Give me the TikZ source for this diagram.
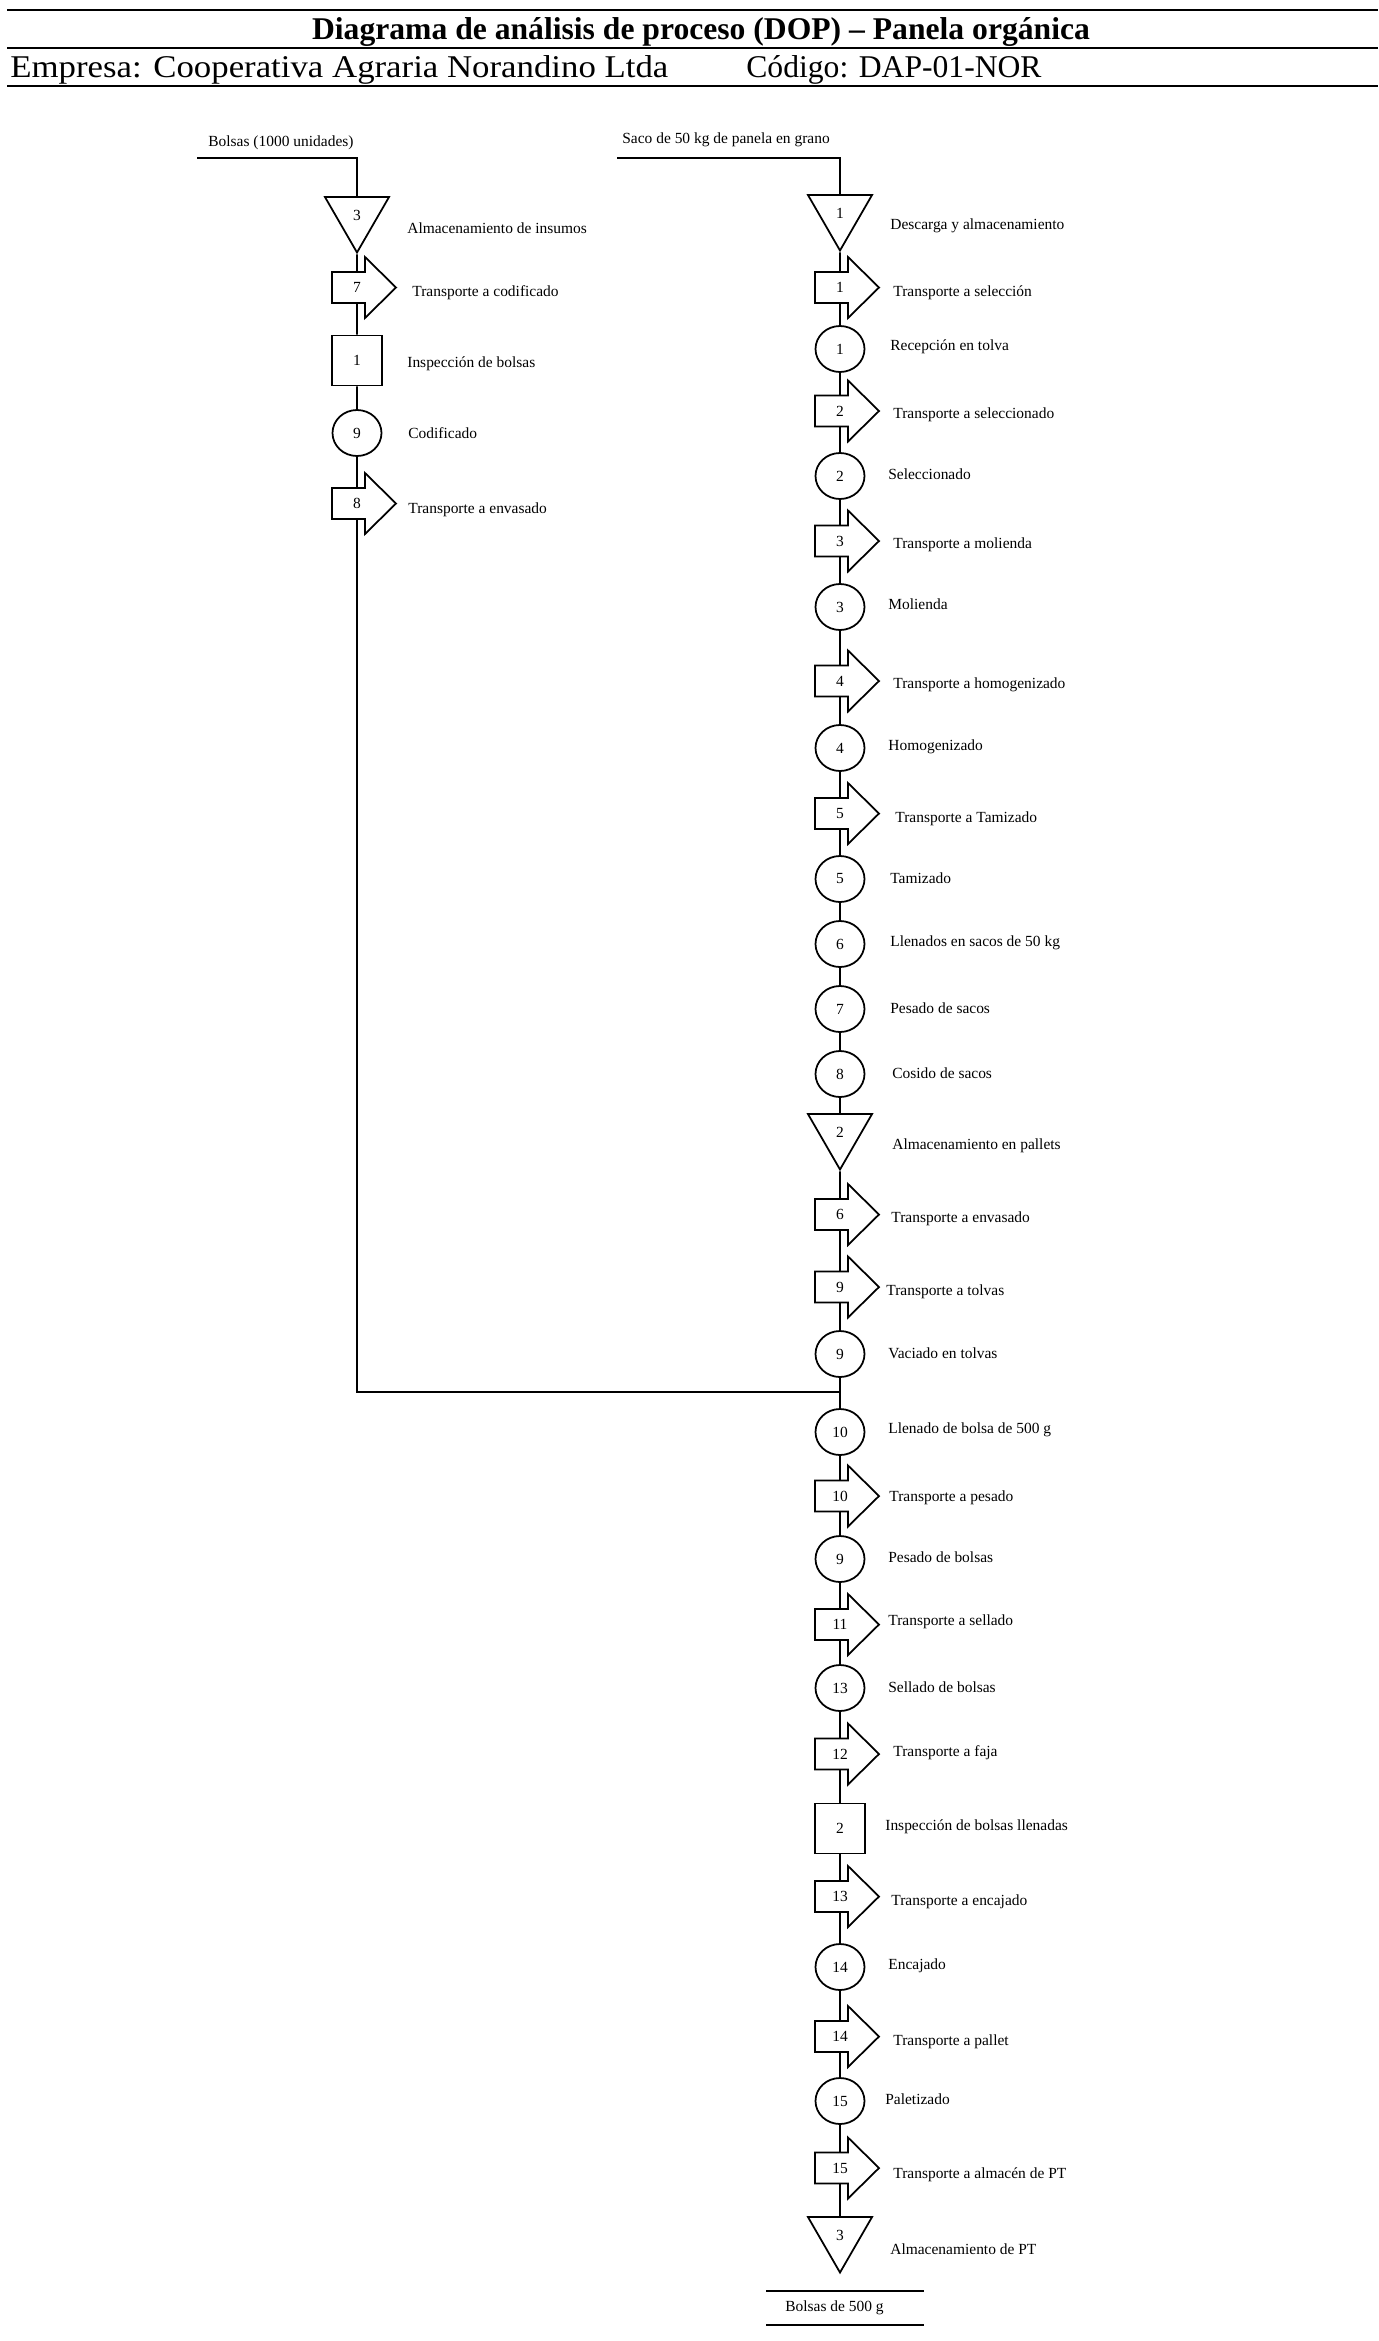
\documentclass[tikz,border=0pt]{standalone}
\usepackage{fontspec}
\setmainfont{Liberation Serif}
\usetikzlibrary{shapes.geometric}

% flecha de transporte: nombre, x, y, numero
\newcommand{\transporte}[4]{%
  \draw[simb] (#2,#3) ++(-25,-15.5) -- ++(33,0) -- ++(0,-15) -- ++(31,30.5)
    -- ++(-31,30.5) -- ++(0,-15) -- ++(-33,0) -- cycle;
  \node[tnum] (#1) at (#2,#3) {#4};}

\begin{document}
\begin{tikzpicture}[
		x=0.2mm,y=-0.2mm,line join=miter,
		simb/.style={draw,line width=1pt},
		con/.style={line width=1pt},
		regla/.style={line width=1.4pt},
		oper/.style={ellipse,draw,line width=1pt,minimum width=9.8mm,minimum height=9.2mm,inner sep=0pt,font=\fontsize{8.8}{10}\selectfont},
		insp/.style={rectangle,draw,line width=1pt,minimum size=10mm,inner sep=0pt,font=\fontsize{8.8}{10}\selectfont},
		alma/.style={regular polygon,regular polygon sides=3,shape border rotate=180,draw,line width=1pt,minimum size=14.8mm,inner sep=0pt,font=\fontsize{8.8}{10}\selectfont},
		tnum/.style={rectangle,inner sep=0pt,minimum width=2mm,minimum height=6.2mm,font=\fontsize{8.8}{10}\selectfont},
		etiq/.style={anchor=west,inner sep=0pt,font=\fontsize{8.8}{10}\selectfont},
		cab/.style={anchor=base west,inner sep=0pt,font=\fontsize{18}{21}\selectfont}]
	\useasboundingbox (0,0) rectangle (1378,2341);
	% encabezado
	\draw[regla] (7,10) -- (1378,10);
	\draw[regla] (7,48) -- (1378,48);
	\draw[regla] (7,86) -- (1378,86);
	\node[anchor=base,inner sep=0pt,font=\bfseries\fontsize{18}{21}\selectfont] (titulo) at (701,39) {Diagrama de análisis de proceso (DOP) – Panela orgánica};
	\node[cab] (empresa) at (10,77) {\scalebox{1.1}[1]{Empresa: Cooperativa Agraria Norandino Ltda}};
	\node[cab] (codigo) at (746,77) {Código: DAP-01-NOR};
	% columna de bolsas
	\node[etiq] (eBolsas) at (208,143) {Bolsas (1000 unidades)};
	\node[alma] (aL3) at (357,215.5) {3};
	\transporte{tL7}{357}{287.5}{7}
	\node[insp] (iL1) at (357,360.5) {1};
	\node[oper] (oL9) at (357,433) {9};
	\transporte{tL8}{357}{503.5}{8}
	\node[etiq] (eL3) at (407,228) {Almacenamiento de insumos};
	\node[etiq] (eL7) at (412,293) {Transporte a codificado};
	\node[etiq] (eL1) at (407,364) {Inspección de bolsas};
	\node[etiq] (eL9) at (408,433) {Codificado};
	\node[etiq] (eL8) at (408,510) {Transporte a envasado};
	% columna de panela
	\node[etiq] (eSaco) at (622,140) {Saco de 50 kg de panela en grano};
	\node[alma] (aR1) at (840,213.5) {1};
	\transporte{tR1}{840}{287.5}{1}
	\node[oper] (oR1) at (840,349) {1};
	\transporte{tR2}{840}{411}{2}
	\node[oper] (oR2) at (840,476) {2};
	\transporte{tR3}{840}{541}{3}
	\node[oper] (oR3) at (840,607) {3};
	\transporte{tR4}{840}{681}{4}
	\node[oper] (oR4) at (840,748) {4};
	\transporte{tR5}{840}{813.5}{5}
	\node[oper] (oR5) at (840,879) {5};
	\node[oper] (oR6) at (840,944) {6};
	\node[oper] (oR7) at (840,1009) {7};
	\node[oper] (oR8) at (840,1074) {8};
	\node[alma] (aR2) at (840,1132.5) {2};
	\transporte{tR6}{840}{1214.5}{6}
	\transporte{tR9}{840}{1287}{9}
	\node[oper] (oR9) at (840,1354) {9};
	\node[oper] (oR10) at (840,1432) {10};
	\transporte{tR10}{840}{1496}{10}
	\node[oper] (oR9b) at (840,1559) {9};
	\transporte{tR11}{840}{1624.5}{11}
	\node[oper] (oR13) at (840,1688) {13};
	\transporte{tR12}{840}{1754}{12}
	\node[insp] (iR2) at (840,1828.5) {2};
	\transporte{tR13}{840}{1896.5}{13}
	\node[oper] (oR14) at (840,1967) {14};
	\transporte{tR14}{840}{2036.5}{14}
	\node[oper] (oR15) at (840,2101) {15};
	\transporte{tR15}{840}{2168}{15}
	\node[alma] (aR3) at (840,2235.5) {3};
	\node[etiq] (eR1a) at (890,226) {Descarga y almacenamiento};
	\node[etiq] (eR1t) at (893,293) {Transporte a selección};
	\node[etiq] (eR1o) at (890,347) {Recepción en tolva};
	\node[etiq] (eR2t) at (893,415) {Transporte a seleccionado};
	\node[etiq] (eR2o) at (888,474) {Seleccionado};
	\node[etiq] (eR3t) at (893,545) {Transporte a molienda};
	\node[etiq] (eR3o) at (888,604) {Molienda};
	\node[etiq] (eR4t) at (893,685) {Transporte a homogenizado};
	\node[etiq] (eR4o) at (888,747) {Homogenizado};
	\node[etiq] (eR5t) at (895,819) {Transporte a Tamizado};
	\node[etiq] (eR5o) at (890,878) {Tamizado};
	\node[etiq] (eR6o) at (890,943) {Llenados en sacos de 50 kg};
	\node[etiq] (eR7o) at (890,1008) {Pesado de sacos};
	\node[etiq] (eR8o) at (892,1073) {Cosido de sacos};
	\node[etiq] (eR2a) at (892,1146) {Almacenamiento en pallets};
	\node[etiq] (eR6t) at (891,1219) {Transporte a envasado};
	\node[etiq] (eR9t) at (886,1292) {Transporte a tolvas};
	\node[etiq] (eR9o) at (888,1353) {Vaciado en tolvas};
	\node[etiq] (eR10o) at (888,1430) {Llenado de bolsa de 500 g};
	\node[etiq] (eR10t) at (889,1498) {Transporte a pesado};
	\node[etiq] (eR9bo) at (888,1557) {Pesado de bolsas};
	\node[etiq] (eR11t) at (888,1622) {Transporte a sellado};
	\node[etiq] (eR13o) at (888,1687) {Sellado de bolsas};
	\node[etiq] (eR12t) at (893,1753) {Transporte a faja};
	\node[etiq] (eR2i) at (885,1827) {Inspección de bolsas llenadas};
	\node[etiq] (eR13t) at (891,1902) {Transporte a encajado};
	\node[etiq] (eR14o) at (888,1966) {Encajado};
	\node[etiq] (eR14t) at (893,2042) {Transporte a pallet};
	\node[etiq] (eR15o) at (885,2099) {Paletizado};
	\node[etiq] (eR15t) at (893,2175) {Transporte a almacén de PT};
	\node[etiq] (eR3a) at (890,2249) {Almacenamiento de PT};
	\node[etiq] (eFin) at (785,2308) {Bolsas de 500 g};
	\draw[con] (766,2291) -- (924,2291);
	\draw[con] (766,2325) -- (924,2325);
	% conectores
	\coordinate (inL) at (197,158);
	\coordinate (inR) at (617,158);
	\coordinate (union) at (840,1392);
	\draw[con] (inL) -| (aL3);
	\draw[con] (aL3) -- (tL7) -- (iL1) -- (oL9) -- (tL8);
	\draw[con] (tL8) |- (union);
	\draw[con] (inR) -| (aR1);
	\draw[con] (aR1) -- (tR1) -- (oR1) -- (tR2) -- (oR2) -- (tR3) -- (oR3) -- (tR4) -- (oR4) -- (tR5) -- (oR5);
	\draw[con] (oR5) -- (oR6) -- (oR7) -- (oR8) -- (aR2) -- (tR6) -- (tR9) -- (oR9) -- (oR10);
	\draw[con] (oR10) -- (tR10) -- (oR9b) -- (tR11) -- (oR13) -- (tR12) -- (iR2) -- (tR13);
	\draw[con] (tR13) -- (oR14) -- (tR14) -- (oR15) -- (tR15) -- (aR3);
\end{tikzpicture}
\end{document}
